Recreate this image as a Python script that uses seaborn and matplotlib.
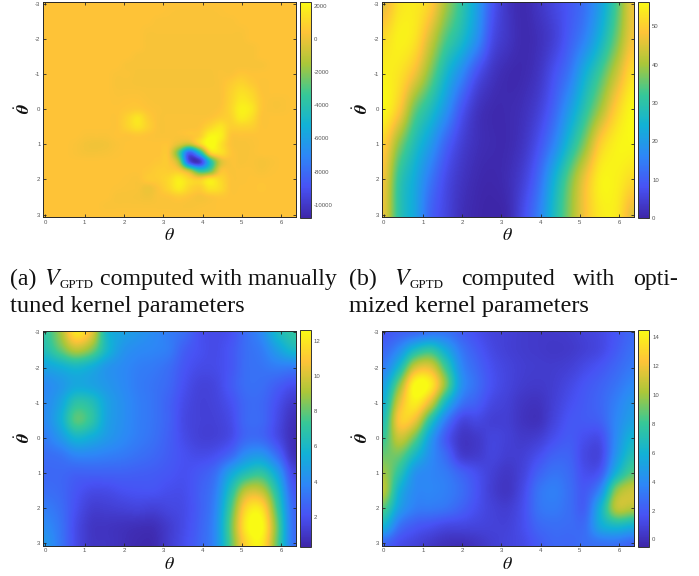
import numpy as np
import pandas as pd
import matplotlib
matplotlib.use('Agg')
import matplotlib.pyplot as plt
import seaborn as sns
from matplotlib.colors import LinearSegmentedColormap

W, H = 699, 576

# values, rows go thetadot -3 -> 3, columns theta 0 -> 2pi
# manual kernel panel is in hundreds
manual_v = [
    [4,4,4,4,4,4,4,4,4,4,4,4,4,4,4,4,4,4,4,4,4,4,4,4,4],
    [4,4,4,4,4,4,4,4,4,4,4,4,3.5,3,3,3,3,3.5,4,4,4,4,4,4,4],
    [4,4,4,4,4,4,4,4,4,4,4,3,3,3,3,3,3,3,3,4,4,4,4,4,4],
    [4,4,4,4,4,4,4,4,4,4,3,3,3,3,3,3,3,3,3,3,4,4,4,4,4],
    [4,4,4,4,4,4,4,4,4,4,2.5,2.5,2.5,2.5,2.5,2.5,2.5,2.5,2.5,2.5,4,4,4,4,4],
    [4,4,4,4,4,4,4,4,4,4,2.5,2.5,2.5,2.5,2.5,2.5,2.5,2.5,2.5,2.5,2.5,4,4,4,4],
    [4,4,4,4,4,4,4,4,4,2.5,2.5,2.5,2.5,2.5,2.5,2.5,2.5,2.5,2.5,2.5,2.5,4,4,4,4],
    [4,4,4,4,4,4,4,4,2.5,2.5,2.5,2.5,2.5,2.5,2.5,2.5,2.5,2.5,2.5,2.5,2.5,2.5,4,4,4],
    [4,4,4,4,4,4,4,3,3,2,2,2,2,2,2,2,2,3,3,5,4,4,4,4,4],
    [4,4,4,4,4,4,4,2.5,2.5,2,2,2,2,2,2,2,2,3,6,9,6,3.5,4,4,4],
    [4,4,4,4,4,4,4,3,3,3,2.5,2.5,2.5,2.5,2.5,2.5,2.5,3,8,13,10,4,4,4,4],
    [4,4,4,4,4,4,4,3.5,4,4,3,2.5,2.5,2.5,2.5,2.5,2.5,3,9,16,13,5,3,3,4],
    [4,4,4,4,4,4,4,4,5,6,4,3,2.5,2.5,2.5,2.5,2.5,4,10,19,16,5,3,3,4],
    [4,4,4,4,4,4,4,4,9,15,7,3,3,3,3,3,4,7,9,17,13,4,4,4,4],
    [4,4,4,4,4,4,4,4,9,14,8,3,3,3,3,4,10,15,8,9,8,4,4,4,4],
    [4,4,4,4,3,3,3,4,4,5,4,3,3,3,4,7,20,19,5,4,4,4,4,4,4],
    [4,4,4,3,1.5,1,1.5,3,4,4,4,4,4,-3,-10,8,25,15,4,2.5,3,4,4,4,4],
    [4,4,4,3,2,2,2.5,3.5,4,4,4,4,3,-30,-85,-50,6,13,5,2.5,3,4,4,4,4],
    [4,4,4,4,4,4,4,4,4,4,4,5,5,-15,-90,-100,-45,-6,3,2.5,3,2,3,4,4],
    [4,4,4,4,4,4,4,4,4,4,5,7,7,5,-12,-38,-28,2,3,3.5,3.5,2.5,3.5,4,4],
    [4,4,4,4,4,4,4,4,3.5,3,6,7,11,18,11,7,16,11,4,3.5,4,4,4,4,4],
    [4,4,4,4,4,4,4,3.5,3,2.5,0,4,10,17,10,7,15,12,4,4,4,4.5,4,4,4],
    [4,4,4,4,4,4,4,2.5,2.5,2,1,3,4,6,4,2,4,5,4,4,4,4,4,4,4],
    [4,4,4,4,4,4,3,3,3,3,3,3,3,3,2.5,3,3.5,4,4,4,4,4,4,4,4],
    [4,4,4,4,4,4,4,4,4,4,4,4,4,4,4,4,4,4,4,4,4,4,4,4,4],
]

optimized_v = [
    [46,53,54,50,40,31,21,9,3,1,3,6,9,13,21,33,46],
    [52,55,53,44,34,27,18,7,3,1,2,5,10,16,25,36,47],
    [55,53,47,37,26,17,8,3,1,1,3,8,14,24,33,43,52],
    [56,49,36,28,19,9,3,1,1,2,5,11,20,30,40,50,56],
    [50,38,28,20,11,5,2,1,1,3,8,16,27,38,50,55,56],
    [47,31,23,14,7,3,1,0.5,1.5,5,12,24,36,47,55,55,52],
    [46,30,22,11,6,2,0.5,0,1,7,15,27,38,48,54,54,46],
]

manual_critic = [
    [7,9,12,10.5,6,5,4.5,4,3.5,3,2,1.8,2,3,4,6,7],
    [6.5,8,9.5,8.5,6,4.5,4,3.8,3.5,2.5,2,1.8,2.2,3,3.5,4.8,6],
    [5,5.5,6,5.5,4.5,4,3.6,3.4,3,2.2,1.8,1.8,2.2,3,3.2,3.5,3.5],
    [4,4.5,5.2,5,4.5,4,3.5,3.2,2.8,2,1.5,1.6,2.3,3,3,2.5,2],
    [4,5,6.8,6.5,5,4.2,3.6,3.2,2.6,1.8,1.4,1.5,2,2.8,2.8,2,1.2],
    [4,5.4,7.8,7,5,4.2,3.6,3.2,2.6,1.7,1.4,1.4,1.8,2.8,2.8,1.8,0.8],
    [3.5,4.5,5.8,5.4,4.6,4,3.5,3.1,2.5,1.8,1.4,1.4,1.8,2.8,2.8,1.8,0.7],
    [3,3.2,3.8,3.8,3.6,3.4,3.1,2.8,2.4,2,1.8,2,2.8,4.2,4.5,3,0.9],
    [2.8,2.8,2.6,2.6,2.6,2.6,2.5,2.4,2.2,2,2.3,3,5,6.5,7,5,1.8],
    [3,2.8,2.2,1.8,1.8,2,2.1,2.1,1.9,1.9,2.5,3.5,6.5,9.5,9.5,6.5,2.5],
    [3.5,3,2,1.3,1.3,1.4,1.5,1.4,1.6,1.8,2.5,3.8,7.5,11.5,11.8,7.5,3],
    [4,3.2,1.8,1,0.9,0.8,0.7,0.7,1.2,1.8,2.6,4,8,12.2,12.7,8.2,3.2],
    [4.5,3.3,1.8,1,0.9,0.7,0.5,0.5,1.2,1.9,2.7,4,7.8,11.5,12.2,8,3.3],
]

optimized_critic = [
    [1.8,2.2,2.5,3,3,2.2,1.5,1,0.8,0.6,0.5,0.5,0.6,0.9,1.2,1.8,2.5],
    [2.5,4,6.5,7.5,5.5,3.2,2,1.2,0.8,0.6,0.5,0.4,0.5,0.8,1.2,2,2.8],
    [3.5,6.5,11,11.5,8,4,2.5,1.5,1,0.7,0.6,0.6,0.8,1.3,1.8,2.5,3.2],
    [5,9.5,14.5,14,9.5,4.5,2.8,1.6,1,0.6,0.5,0.7,1.2,1.8,2.3,3,3.8],
    [6,11.5,14,11.5,6.5,3.2,2.2,1.2,0.8,0.3,0.2,0.8,1.5,2,2.5,3.5,4.5],
    [7,12.5,12,7.5,3.5,1.2,1.2,0.8,0.7,0.2,0.1,1,1.8,2,2.3,3.8,5],
    [8,11,9,5,2,0.4,0.5,1,0.8,0.5,0.7,1.5,2,1.5,1.5,4,6],
    [9,9,6.5,4.2,2.6,0.7,0.6,1,0.7,0.8,1.5,2.3,2.3,1.2,1.2,4.5,7],
    [10,7.5,4.5,3.8,3.3,2.3,1.5,0.8,0.4,1,2.3,3,2.6,1.5,2,6,8.5],
    [10.5,6,4,3.8,3.5,2.8,1.7,0.7,0.3,1.3,3,3.5,2.8,2,4,9.5,11],
    [8.5,5,3.5,3.3,3,2.3,1.5,0.9,0.7,1.5,3,3.3,2.8,2.3,6,10.5,10.5],
    [6,3,2,1.6,1.2,1.1,1,0.9,0.9,1.5,2.5,2.8,2.7,2.8,5.5,6.5,6],
    [2.5,1.5,1,0.5,0.1,0,0.3,0.7,1,1.3,2,2.5,2.5,2.8,3,3,2.5],
]

theta_ticks = [0, 1, 2, 3, 4, 5, 6]
thetadot_ticks = [-3, -2, -1, 0, 1, 2, 3]
cbar_a = [2000, 0, -2000, -4000, -6000, -8000, -10000]
cbar_b = [0, 10, 20, 30, 40, 50]
cbar_c = [2, 4, 6, 8, 10, 12]
cbar_d = [0, 2, 4, 6, 8, 10, 12, 14]

parula = LinearSegmentedColormap.from_list('parula', [
    (0.2422, 0.1504, 0.6603), (0.2810, 0.3228, 0.9579), (0.1786, 0.5289, 0.9682),
    (0.0689, 0.6948, 0.8394), (0.2161, 0.7843, 0.5923), (0.6720, 0.7793, 0.2227),
    (0.9970, 0.7659, 0.2199), (0.9769, 0.9839, 0.0805)])

sns.set_theme(style='white')
plt.rcParams['font.family'] = ['Liberation Serif', 'DejaVu Serif']
plt.rcParams['mathtext.fontset'] = 'stix'
plt.rcParams['axes.unicode_minus'] = False

fig = plt.figure(figsize=(W / 100, H / 100), dpi=100)


def px_axes(x0, y0, x1, y1):
    return fig.add_axes([x0 / W, 1 - y1 / H, (x1 - x0) / W, (y1 - y0) / H])


def panel(values, box, cbar_box, vmin, vmax, cticks):
    ax = px_axes(*box)
    cax = px_axes(*cbar_box)
    df = pd.DataFrame(values)
    sns.heatmap(df, ax=ax, cbar_ax=cax, cmap=parula, vmin=vmin, vmax=vmax,
                xticklabels=False, yticklabels=False, cbar_kws={'ticks': cticks})
    cb = ax.collections[0].colorbar
    nr, nc = df.shape
    # smooth the same grid on top, the original is a much finer mesh
    ax.imshow(df.values, extent=(0, nc, nr, 0), cmap=parula, vmin=vmin, vmax=vmax,
              interpolation='catrom', interpolation_stage='data', aspect='auto', zorder=2)
    ax.set_axisbelow(False)
    to_x = lambda t: np.asarray(t) / (2 * np.pi) * (nc - 1) + 0.5
    to_y = lambda t: (np.asarray(t) + 3) / 6 * (nr - 1) + 0.5
    ax.set_xlim(to_x(-0.05), to_x(6.37))
    ax.set_ylim(to_y(3.07), to_y(-3.05))
    ax.set_xticks(to_x(theta_ticks), labels=theta_ticks)
    ax.set_yticks(to_y(thetadot_ticks), labels=thetadot_ticks)
    ax.tick_params(direction='in', length=2.5, width=0.6, color='#262626', labelsize=4.3,
                   labelcolor='#555555', pad=2, top=True, right=True, bottom=True, left=True)
    for lab in ax.get_xticklabels() + ax.get_yticklabels():
        lab.set_fontfamily('Liberation Sans')
    for s in ax.spines.values():
        s.set_visible(True)
        s.set_linewidth(0.7)
        s.set_color('#262626')
    cb.outline.set_visible(True)
    cb.outline.set_linewidth(0.7)
    cb.outline.set_edgecolor('#333333')
    cax.tick_params(direction='in', length=2, width=0.6, color='#333333', labelsize=4.3,
                    labelcolor='#555555', pad=2, right=True, left=False)
    for lab in cax.get_yticklabels():
        lab.set_fontfamily('Liberation Sans')


panel(np.array(manual_v) * 100, (43.3, 2, 295.7, 217), (300.3, 1.5, 310.7, 218), -10800, 2270, cbar_a)
panel(optimized_v, (381.7, 2, 633.7, 217), (638.3, 1.5, 649.3, 218), 0, 56.5, cbar_b)
panel(manual_critic, (43.3, 330.7, 295.7, 545.7), (300.3, 330, 310.7, 546.7), 0.28, 12.65, cbar_c)
panel(optimized_critic, (381.7, 330.7, 633.7, 545.7), (638.3, 330, 649.3, 546.7), -0.5, 14.5, cbar_d)


def put(x, y, s, **kw):
    fig.text(x / W, 1 - y / H, s, **kw)


for x, y in [(169, 240), (507, 240), (169, 569), (507, 569)]:
    put(x, y, r'$\theta$', fontsize=13, ha='center', va='baseline', color='#111111')
for x, y in [(24, 109), (362, 109), (24, 438), (362, 438)]:
    put(x, y, r'$\dot{\boldsymbol{\theta}}$', fontsize=13, rotation=90, ha='center', va='center',
        color='#111111')

cap = dict(fontsize=17.2, ha='left', va='baseline', color='#111111')
sub = dict(fontsize=9.4, ha='left', va='baseline', color='#111111')
put(10, 285, '(a)', **cap)
put(44, 285, r'$V$', **cap)
put(59, 288, 'GPTD', **sub)
put(100, 285, 'computed with manually', **cap)
put(10, 312, 'tuned kernel parameters', fontsize=17.6, ha='left', va='baseline', color='#111111')
put(349, 285, '(b)', **cap)
put(394, 285, r'$V$', **cap)
put(409, 288, 'GPTD', **sub)
put(461, 285, 'computed', **cap)
put(573, 285, 'with', **cap)
put(633, 285, 'opti-', **cap)
put(349, 312, 'mized kernel parameters', fontsize=17.6, ha='left', va='baseline', color='#111111')

plt.savefig('out.png', dpi=100)
